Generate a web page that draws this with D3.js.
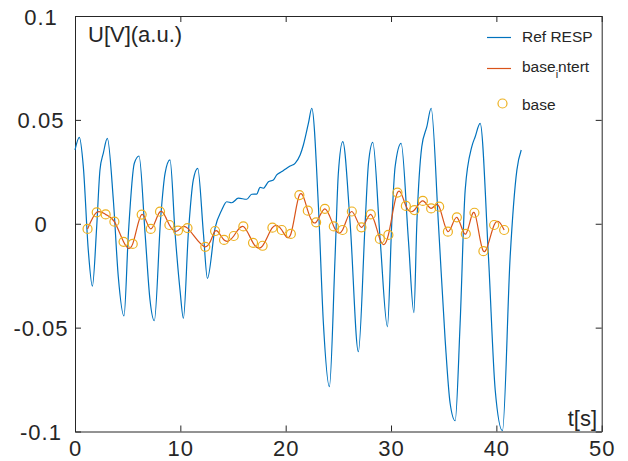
<!DOCTYPE html>
<html lang="en">
<head>
<script src="https://cdnjs.cloudflare.com/ajax/libs/d3/7.8.5/d3.min.js"></script>
<style>
	body{ margin:0; background:#fff; }
	text{ font-family:"Liberation Sans", Arial, sans-serif; fill:#262626; }
</style>
</head>
<body>
<svg id="chart" width="628" height="461"></svg>
<script>
	// Ref RESP (time in s, value in a.u.)
	const refT = [0,0.41,0.79,1.26,1.65,2.06,2.37,2.69,3.07,3.64,4.11,4.65,5.07,5.63,6.08,6.65,7.12,7.53,8.14,8.55,
		9.02,9.5,9.97,10.29,10.76,11.23,11.65,12.19,12.57,13.3,13.93,14.41,14.88,15.51,16.3,16.78,17.25,17.57,17.88,18.36,18.83,
		19.15,19.63,19.94,20.42,20.89,21.37,21.68,22.16,22.48,23.11,23.58,24.15,24.69,25.0,25.42,26.12,26.9,27.54,27.86,28.27,
		28.97,29.66,30.07,30.39,30.96,31.65,32.17,32.45,32.92,33.4,33.81,34.5,35.14,35.61,36.09,36.56,37.04,37.67,37.99,38.46,
		39.25,39.89,40.58,41.31,41.95,42.36];
	const refV = [0.0355,0.0416,0.0275,-0.0126,-0.030,-0.0014,0.0259,0.034,0.0411,0.0114,-0.0255,-0.0444,-0.0046,0.0291,0.0326,-0.0045,-0.0367,-0.0467,0.0034,0.0243,
		0.0307,-0.0045,-0.032,-0.0455,-0.0046,0.0211,0.0267,-0.0046,-0.0263,-0.002,0.0066,0.0106,0.0101,0.0123,0.0118,0.0142,0.0143,0.0175,0.0171,0.0202,0.0211,
		0.0235,0.0251,0.0262,0.0278,0.0291,0.0331,0.0379,0.0484,0.0556,0.0082,-0.0479,-0.0784,-0.0159,0.0243,0.0395,0.0002,-0.0616,0,0.0291,0.0392,
		-0.0078,-0.0496,0.0002,0.0275,0.0387,-0.0078,-0.0428,0,0.0371,0.0467,0.0556,0,-0.056,-0.0864,-0.0948,-0.0479,0.0162,0.0371,0.0419,0.0483,
		-0.0159,-0.080,-0.0996,-0.0159,0.0259,0.0355];

	// base samples (circles); base_intert is the spline through them
	const baseT = [1.19,2.06,2.91,3.74,4.61,5.48,6.33,7.19,8.07,8.96,9.78,10.68,12.37,13.3,14.15,15.07,15.98,16.9,17.81,18.74,
		19.63,20.49,21.30,22.10,22.89,23.72,24.57,25.40,26.28,27.19,28.08,28.94,29.75,30.61,31.41,32.22,33.02,33.81,34.57,35.40,
		36.25,37.10,37.92,38.77,39.79,40.74];
	const baseV = [-0.0025,0.0055,0.0045,0.001,-0.0087,-0.0097,0.0044,-0.0025,0.0058,-0.0006,-0.0033,-0.0021,-0.0111,-0.0035,-0.0078,-0.0059,-0.0013,-0.0092,-0.0106,-0.0019,
		-0.0030,-0.0049,0.0138,0.0063,0.0007,0.0072,-0.0013,-0.0030,0.0059,-0.0017,0.0045,-0.0073,-0.0054,0.0150,0.0086,0.0066,0.0110,0.0074,0.0082,-0.0038,
		0.0031,-0.0049,0.0053,-0.0132,-0.0006,-0.0030];

	const xTicks = [0,10,20,30,40,50];
	const yTicks = [-0.1,-0.05,0,0.05,0.1];
	const yTickLabels = ["-0.1","-0.05","0","0.05","0.1"];

	const plotLeft = 75, plotRight = 601.7, plotTop = 16, plotBottom = 431.5;
	const axisColor = "#262626";

	const svg = d3.select("#chart");

	const x = d3.scaleLinear().domain([0,50]).range([plotLeft,plotRight]);
	const y = d3.scaleLinear().domain([-0.1,0.1]).range([plotBottom,plotTop]);

	// box with inward ticks on all sides
	const gx = svg.append("g").attr("transform", `translate(0,${plotBottom})`)
		.call(d3.axisBottom(x).tickValues(xTicks).tickSize(-6).tickSizeOuter(0).tickPadding(9).tickFormat(d3.format("d")));
	const gxTop = svg.append("g").attr("transform", `translate(0,${plotTop})`)
		.call(d3.axisTop(x).tickValues(xTicks).tickSize(-6).tickSizeOuter(0).tickFormat(""));
	const gy = svg.append("g").attr("transform", `translate(${plotLeft},0)`)
		.call(d3.axisLeft(y).tickValues(yTicks).tickSize(-6).tickSizeOuter(0).tickFormat((d,i) => yTickLabels[i]));
	const gyRight = svg.append("g").attr("transform", `translate(${plotRight},0)`)
		.call(d3.axisRight(y).tickValues(yTicks).tickSize(-6).tickSizeOuter(0).tickFormat(""));

	[gx,gxTop,gy,gyRight].forEach(g => {
		g.selectAll(".domain").attr("stroke", axisColor);
		g.selectAll(".tick line").attr("stroke", axisColor);
	});
	gx.selectAll("text").attr("font-size", 22).attr("fill", axisColor)
		.style("font-family", '"Liberation Sans", Arial, sans-serif').attr("letter-spacing", 1);
	gy.selectAll("text").attr("font-size", 22).attr("fill", axisColor)
		.style("font-family", '"Liberation Sans", Arial, sans-serif')
		.attr("text-anchor", "middle").attr("x", -34).attr("dy", null).attr("y", 8).attr("letter-spacing", 1);

	// Ref RESP
	const refData = d3.zip(refT, refV);
	svg.append("path")
		.datum(refData)
		.attr("fill", "none")
		.attr("stroke", "#0072BD")
		.attr("stroke-width", 1.2)
		.attr("d", d3.line().x(d => x(d[0])).y(d => y(d[1])).curve(d3.curveMonotoneX));

	// base_intert
	const baseData = d3.zip(baseT, baseV);
	svg.append("path")
		.datum(baseData)
		.attr("fill", "none")
		.attr("stroke", "#D95319")
		.attr("stroke-width", 1.2)
		.attr("d", d3.line().x(d => x(d[0])).y(d => y(d[1])).curve(d3.curveNatural));

	// base circles
	svg.append("g").selectAll("circle")
		.data(baseData)
		.join("circle")
		.attr("cx", d => x(d[0]))
		.attr("cy", d => y(d[1]))
		.attr("r", 4.5)
		.attr("fill", "none")
		.attr("stroke", "#EDB120")
		.attr("stroke-width", 1.2);

	// axis labels inside the box
	svg.append("text").attr("x", 88).attr("y", 42).attr("font-size", 22).text("U[V](a.u.)");
	svg.append("text").attr("x", 597).attr("y", 426).attr("font-size", 22)
		.attr("text-anchor", "end").text("t[s]");

	// legend (no box)
	const legend = svg.append("g").attr("font-size", 15.5);
	legend.append("line").attr("x1", 487).attr("x2", 511).attr("y1", 37.5).attr("y2", 37.5)
		.attr("stroke", "#0072BD").attr("stroke-width", 1.2);
	legend.append("text").attr("x", 522).attr("y", 41.5).text("Ref RESP");

	legend.append("line").attr("x1", 487).attr("x2", 511).attr("y1", 68.5).attr("y2", 68.5)
		.attr("stroke", "#D95319").attr("stroke-width", 1.2);
	const t2 = legend.append("text").attr("x", 522).attr("y", 72);
	t2.append("tspan").text("base");
	t2.append("tspan").attr("font-size", 11).attr("dy", 6).text("i");
	t2.append("tspan").attr("dy", -6).text("ntert");

	legend.append("circle").attr("cx", 502.5).attr("cy", 103.5).attr("r", 4.5)
		.attr("fill", "none").attr("stroke", "#EDB120").attr("stroke-width", 1.2);
	legend.append("text").attr("x", 522).attr("y", 110).text("base");
</script>
</body>
</html>
